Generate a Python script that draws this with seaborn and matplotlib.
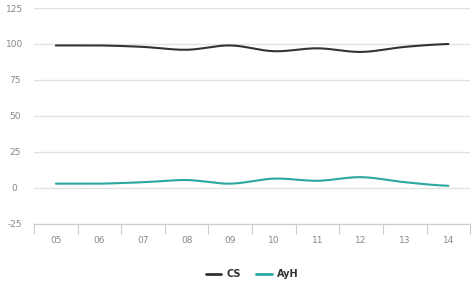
import matplotlib
matplotlib.use("Agg")
import matplotlib.pyplot as plt
import seaborn as sns
import numpy as np
import pandas as pd

# chart data
years = ["05", "06", "07", "08", "09", "10", "11", "12", "13", "14"]
cs_values = [99, 99, 98, 96, 99, 95, 97, 94.5, 98, 100]
ayh_values = [3, 3, 4, 5.5, 3, 6.5, 5, 7.5, 4, 1.5]
series_names = ["CS", "AyH"]
series_colors = ["#333333", "#2aa8a2"]
y_ticks = [-25, 0, 25, 50, 75, 100, 125]


def smooth(x, y, steps=20):
    """Catmull-Rom curve through the points, only used for drawing."""
    x = np.asarray(x, dtype=float)
    y = np.asarray(y, dtype=float)
    px = np.concatenate([[2 * x[0] - x[1]], x, [2 * x[-1] - x[-2]]])
    py = np.concatenate([[y[0]], y, [y[-1]]])
    xs, ys = [], []
    t = np.linspace(0, 1, steps, endpoint=False)
    for i in range(1, len(px) - 2):
        for p, out in ((px, xs), (py, ys)):
            p0, p1, p2, p3 = p[i - 1], p[i], p[i + 1], p[i + 2]
            out.extend(0.5 * ((2 * p1) + (-p0 + p2) * t
                              + (2 * p0 - 5 * p1 + 4 * p2 - p3) * t ** 2
                              + (-p0 + 3 * p1 - 3 * p2 + p3) * t ** 3))
    xs.append(x[-1])
    ys.append(y[-1])
    return np.array(xs), np.array(ys)


frames = []
for name, vals in zip(series_names, [cs_values, ayh_values]):
    sx, sy = smooth(range(len(years)), vals)
    frames.append(pd.DataFrame({"x": sx, "value": sy, "series": name}))
df = pd.concat(frames, ignore_index=True)

sns.set_style("white")
plt.rcParams["axes.unicode_minus"] = False
fig = plt.figure(figsize=(4.73, 2.81), dpi=100)
ax = fig.add_axes([0.072, 0.203, 0.922, 0.7685])

sns.lineplot(data=df, x="x", y="value", hue="series", palette=series_colors,
             hue_order=series_names, linewidth=1.5, ax=ax, sort=False,
             estimator=None)

ax.set_xlim(-0.5, len(years) - 0.5)
ax.set_ylim(-25, 125)
ax.set_yticks(y_ticks)
ax.set_xticks(range(len(years)))
ax.set_xticklabels(years)
ax.set_xticks(np.arange(-0.5, len(years), 1), minor=True)
ax.yaxis.grid(True, color="#e2e2e2", linewidth=1)
ax.set_axisbelow(True)
for side in ["top", "right", "left"]:
    ax.spines[side].set_visible(False)
ax.spines["bottom"].set_color("#cccccc")
ax.tick_params(axis="x", which="major", bottom=True, length=0, pad=9,
               labelsize=6.5, labelcolor="#888888")
ax.tick_params(axis="x", which="minor", bottom=True, length=7,
               color="#cccccc", width=0.8, direction="out")
ax.tick_params(axis="y", length=0, pad=14, labelsize=6.5,
               labelcolor="#888888")
for lbl in ax.get_yticklabels():
    lbl.set_horizontalalignment("center")
ax.set_xlabel("")
ax.set_ylabel("")

leg = ax.legend(loc="upper center", bbox_to_anchor=(0.5, -0.17), ncol=2,
                frameon=False, handlelength=1.6, columnspacing=1.6,
                handletextpad=0.5, fontsize=7)
for text in leg.get_texts():
    text.set_fontweight("bold")
    text.set_color("#333333")
for line in leg.get_lines():
    line.set_linewidth(2)

fig.savefig("out.png", dpi=100)
